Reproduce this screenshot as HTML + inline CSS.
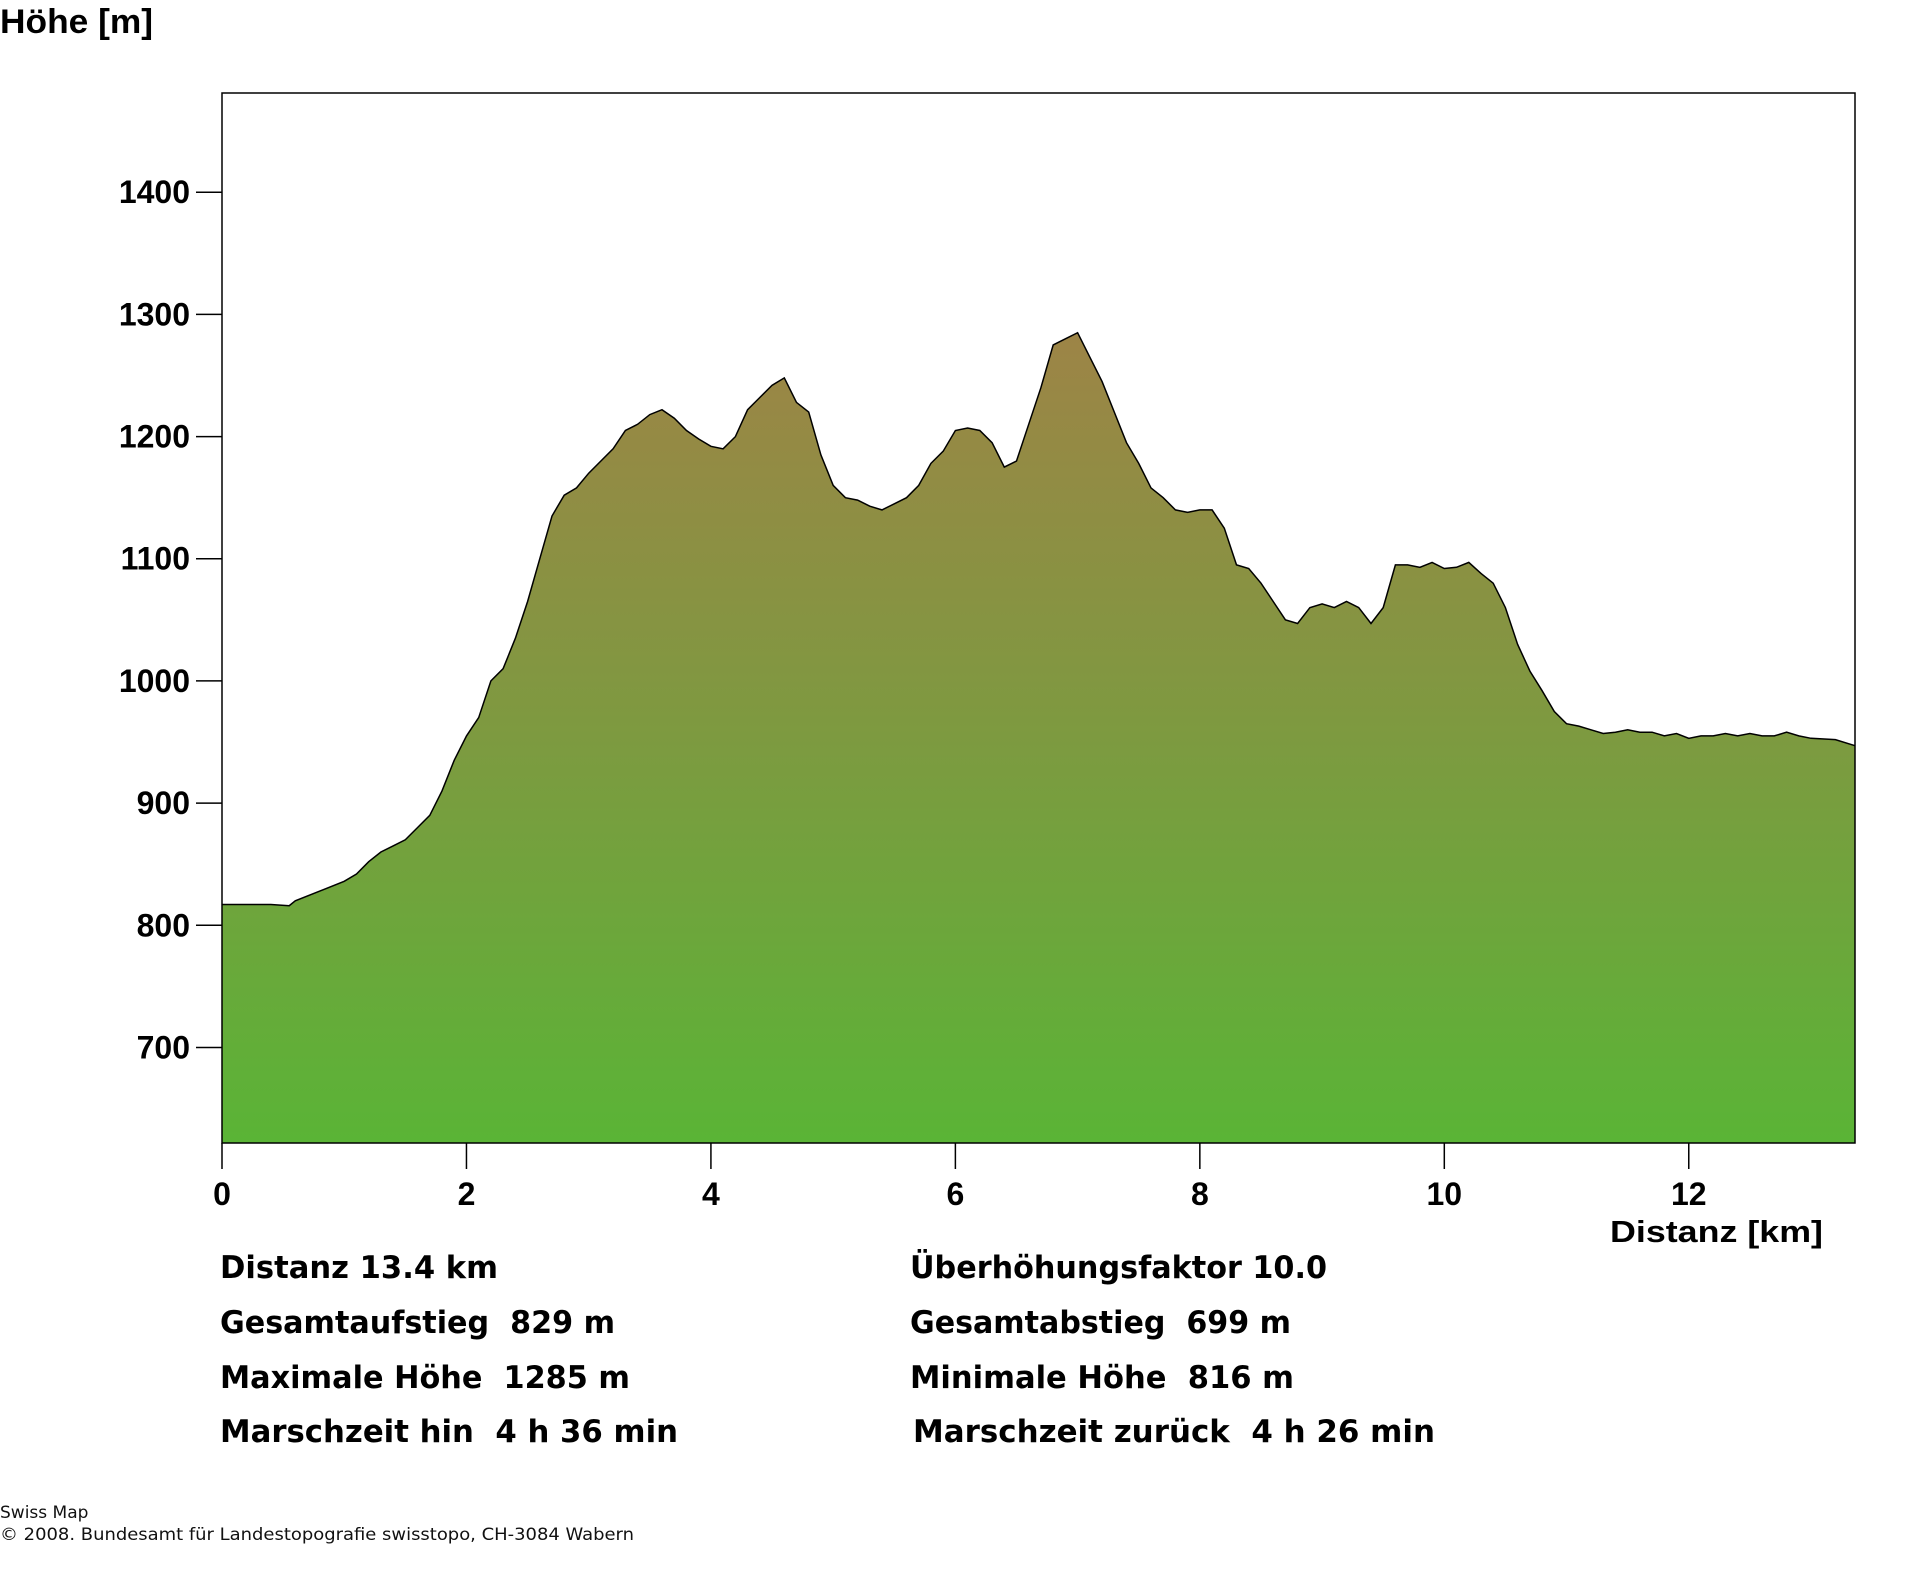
<!DOCTYPE html>
<html><head><meta charset="utf-8"><style>
html,body{margin:0;padding:0;background:#fff;}
svg{display:block;font-family:"Liberation Sans",sans-serif;}
text{white-space:pre;}
</style></head><body>
<svg id="chart" width="1920" height="1572" viewBox="0 0 1920 1572" xmlns="http://www.w3.org/2000/svg" xml:space="preserve">
<defs>
<linearGradient id="grad" gradientUnits="userSpaceOnUse" x1="0" y1="330" x2="0" y2="1143">
<stop offset="0" stop-color="#9d8446"/>
<stop offset="0.5" stop-color="#7d9a40"/>
<stop offset="1" stop-color="#5ab436"/>
</linearGradient>
</defs>
<text x="0" y="33" font-size="34" font-weight="bold" textLength="153" lengthAdjust="spacingAndGlyphs">Höhe [m]</text>
<g id="plot"></g>
<text x="1823" y="1242" font-size="31" font-weight="bold" text-anchor="end" textLength="213" lengthAdjust="spacingAndGlyphs">Distanz [km]</text>
<g font-size="31" font-weight="bold" font-family="DejaVu Sans, sans-serif">
<text x="220" y="1278" textLength="278" lengthAdjust="spacingAndGlyphs">Distanz 13.4 km</text>
<text x="220" y="1333" textLength="395" lengthAdjust="spacingAndGlyphs">Gesamtaufstieg  829 m</text>
<text x="220" y="1388" textLength="410" lengthAdjust="spacingAndGlyphs">Maximale Höhe  1285 m</text>
<text x="220" y="1442" textLength="458" lengthAdjust="spacingAndGlyphs">Marschzeit hin  4 h 36 min</text>
<text x="910" y="1278" textLength="417" lengthAdjust="spacingAndGlyphs">Überhöhungsfaktor 10.0</text>
<text x="910" y="1333" textLength="381" lengthAdjust="spacingAndGlyphs">Gesamtabstieg  699 m</text>
<text x="910" y="1388" textLength="384" lengthAdjust="spacingAndGlyphs">Minimale Höhe  816 m</text>
<text x="913" y="1442" textLength="522" lengthAdjust="spacingAndGlyphs">Marschzeit zurück  4 h 26 min</text>
</g>
<text x="0" y="1518" font-size="17" font-family="DejaVu Sans, sans-serif" fill="#111">Swiss Map</text>
<text x="0" y="1540" font-size="17" font-family="DejaVu Sans, sans-serif" fill="#111" textLength="634" lengthAdjust="spacingAndGlyphs">© 2008. Bundesamt für Landestopografie swisstopo, CH-3084 Wabern</text>
</svg>
<script>
const distKm = [0,0.2,0.4,0.55,0.6,0.8,1.0,1.1,1.2,1.3,1.4,1.5,1.6,1.7,1.8,1.9,2.0,2.1,2.2,2.3,2.4,2.5,2.6,2.7,2.8,2.9,3.0,3.1,3.2,3.3,3.4,3.5,3.6,3.7,3.8,3.9,4.0,4.1,4.2,4.3,4.4,4.5,4.6,4.7,4.8,4.9,5.0,5.1,5.2,5.3,5.4,5.5,5.6,5.7,5.8,5.9,6.0,6.1,6.2,6.3,6.4,6.5,6.6,6.7,6.8,6.9,7.0,7.1,7.2,7.3,7.4,7.5,7.6,7.7,7.8,7.9,8.0,8.1,8.2,8.3,8.4,8.5,8.6,8.7,8.8,8.9,9.0,9.1,9.2,9.3,9.4,9.5,9.6,9.7,9.8,9.9,10.0,10.1,10.2,10.3,10.4,10.5,10.6,10.7,10.8,10.9,11.0,11.1,11.2,11.3,11.4,11.5,11.6,11.7,11.8,11.9,12.0,12.1,12.2,12.3,12.4,12.5,12.6,12.7,12.8,12.9,13.0,13.2,13.36];
const elevM = [817,817,817,816,820,828,836,842,852,860,865,870,880,890,910,935,955,970,1000,1010,1035,1065,1100,1135,1152,1158,1170,1180,1190,1205,1210,1218,1222,1215,1205,1198,1192,1190,1200,1222,1232,1242,1248,1228,1220,1185,1160,1150,1148,1143,1140,1145,1150,1160,1178,1188,1205,1207,1205,1195,1175,1180,1210,1240,1275,1280,1285,1265,1245,1220,1195,1178,1158,1150,1140,1138,1140,1140,1125,1095,1092,1080,1065,1050,1047,1060,1063,1060,1065,1060,1047,1060,1095,1095,1093,1097,1092,1093,1097,1088,1080,1060,1030,1008,992,975,965,963,960,957,958,960,958,958,955,957,953,955,955,957,955,957,955,955,958,955,953,952,947];
const yTicks = [700,800,900,1000,1100,1200,1300,1400];
const xTicks = [0,2,4,6,8,10,12];

const L=222,R=1855,T=93,B=1143;
const yMin=621.8, yMax=1481.2, xMax=13.36;
const xs = v => L + v/xMax*(R-L);
const ys = v => B - (v-yMin)/(yMax-yMin)*(B-T);
const NS="http://www.w3.org/2000/svg";
const g=document.getElementById('plot');
function mk(tag,attrs){const e=document.createElementNS(NS,tag);for(const k in attrs)e.setAttribute(k,attrs[k]);return e;}

let d='M'+xs(distKm[0])+','+B;
distKm.forEach((k,i)=>{d+=' L'+xs(k).toFixed(1)+','+ys(elevM[i]).toFixed(1);});
d+=' L'+xs(distKm[distKm.length-1])+','+B+' Z';
const area=mk('path',{d:d,fill:'url(#grad)',stroke:'none'});


g.appendChild(area);
let ld='';
distKm.forEach((k,i)=>{ld+=(i?' L':'M')+xs(k).toFixed(1)+','+ys(elevM[i]).toFixed(1);});
const line=mk('path',{d:ld,fill:'none',stroke:'#000','stroke-width':1.5});


g.appendChild(line);

const frame=mk('rect',{x:L,y:T,width:R-L,height:B-T,fill:'none',stroke:'#000','stroke-width':1.5});


g.appendChild(frame);

yTicks.forEach(v=>{
  const y=ys(v);
  const t=mk('line',{x1:196,x2:L,y1:y,y2:y,stroke:'#000','stroke-width':1.5});
  
  
  g.appendChild(t);
  const tx=mk('text',{x:190,y:y+11,'font-size':32,'font-weight':'bold','text-anchor':'end'});
  tx.textContent=v;
  
  
  g.appendChild(tx);
});
xTicks.forEach(v=>{
  const x=xs(v);
  const t=mk('line',{x1:x,x2:x,y1:B,y2:1169,stroke:'#000','stroke-width':1.5});
  
  
  g.appendChild(t);
  const tx=mk('text',{x:x,y:1205,'font-size':32,'font-weight':'bold','text-anchor':'middle'});
  tx.textContent=v;
  
  
  g.appendChild(tx);
});
</script>
</body></html>
